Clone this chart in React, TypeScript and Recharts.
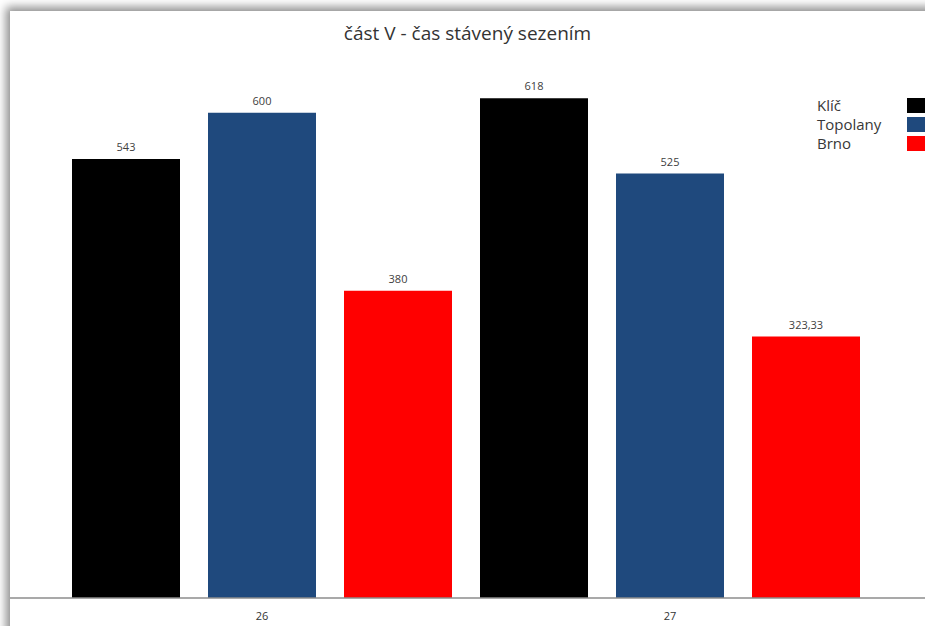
import { BarChart, Bar, XAxis, YAxis, LabelList } from "recharts";

const categories = ["26", "27"];
const klic = [543, 618];
const topolany = [600, 525];
const brno = [380, 323.33];

const seriesKeys = ["klic", "topolany", "brno"];
const seriesNames = ["Klíč", "Topolany", "Brno"];
const seriesColors = ["#000000", "#1F497D", "#FF0000"];

const data = categories.map((name, i) => ({
  name,
  klic: klic[i],
  topolany: topolany[i],
  brno: brno[i],
}));

const fontFamily = "'Open Sans', 'Noto Sans', sans-serif";

// czech decimal comma on data labels
const formatValue = (v: number) => String(v).replace(".", ",");

function LegendBox() {
  return (
    <div
      style={{
        position: "absolute",
        left: 807,
        top: 85,
        fontFamily,
        fontSize: 15,
        color: "#383838",
        lineHeight: "19px",
      }}
    >
      {seriesNames.map((name, i) => (
        <div key={name} style={{ display: "flex", alignItems: "center", width: 130 }}>
          <span style={{ width: 90 }}>{name}</span>
          <span style={{ width: 30, height: 15, background: seriesColors[i] }} />
        </div>
      ))}
    </div>
  );
}

export default function App() {
  return (
    <div style={{ position: "fixed", left: 0, top: 0, width: 925, height: 626, background: "#ffffff", overflow: "hidden" }}>
      <div
        style={{
          position: "absolute",
          left: 10,
          top: 11,
          width: 940,
          height: 640,
          background: "#ffffff",
          boxShadow: "-3px -3px 9px 1px rgba(0,0,0,0.45)",
        }}
      >
        <div
          style={{
            position: "absolute",
            left: 0,
            width: 915,
            top: 9,
            textAlign: "center",
            fontFamily,
            fontSize: 19,
            color: "#333333",
          }}
        >
          část V - čas stávený sezením
        </div>
        <BarChart
          width={915}
          height={615}
          data={data}
          margin={{ top: 21, right: 0, bottom: 0, left: 0 }}
          barSize={108}
          barGap={28}
        >
          <XAxis
            dataKey="name"
            height={28}
            padding={{ left: 48, right: 51 }}
            axisLine={{ stroke: "#8c8c8c", strokeWidth: 1.5 }}
            tickLine={false}
            tickSize={6}
            tickMargin={8}
            tick={{ fill: "#333333", fontSize: 11, fontFamily }}
          />
          <YAxis hide width={0} domain={[0, 700]} />
          {seriesKeys.map((key, i) => (
            <Bar key={key} dataKey={key} name={seriesNames[i]} fill={seriesColors[i]} isAnimationActive={false}>
              <LabelList
                dataKey={key}
                position="top"
                offset={8}
                formatter={(v: any) => formatValue(Number(v))}
                style={{ fill: "#404040", fontSize: 11, fontFamily }}
              />
            </Bar>
          ))}
        </BarChart>
        <LegendBox />
      </div>
    </div>
  );
}
